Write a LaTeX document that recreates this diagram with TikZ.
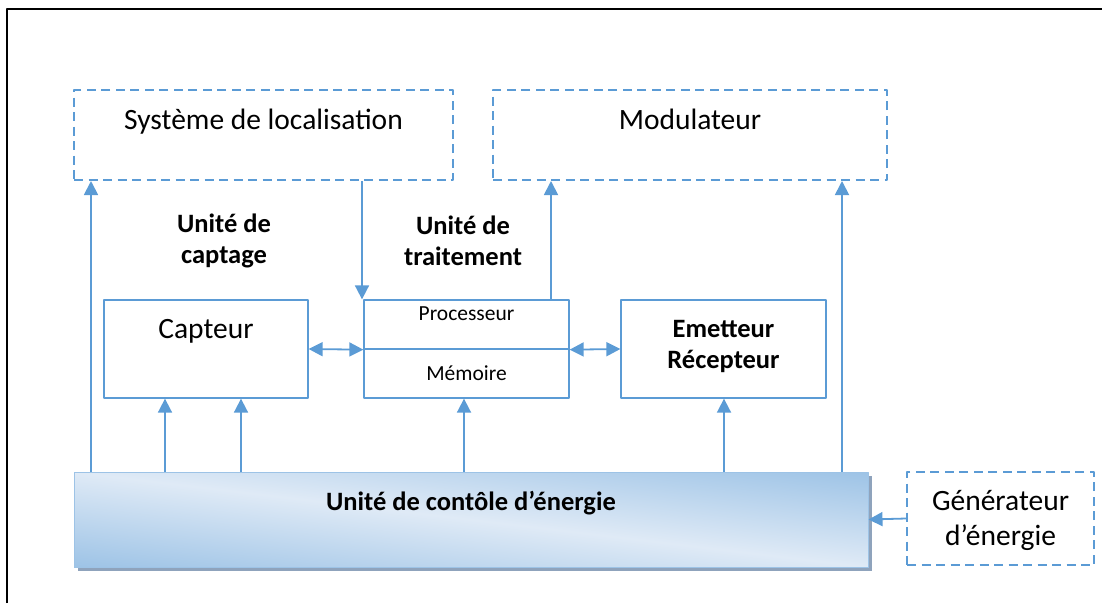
\documentclass[tikz,border=0pt]{standalone}
\usepackage{fontspec}
\setmainfont{Carlito}
\usetikzlibrary{arrows.meta,shadows}
\definecolor{bleu}{HTML}{5B9BD5}
\definecolor{bleufonce}{HTML}{9DC3E6}
\definecolor{ombre}{HTML}{8FA3BC}
% degrade diagonal : clair sur la diagonale, fonce dans deux coins
\pgfdeclarefunctionalshading{barre}{\pgfpointorigin}{\pgfpoint{100bp}{100bp}}{}{
	25 sub 50 div exch 25 sub 50 div add 1 sub abs
	dup dup -0.259 mul 0.875 add 3 1 roll -0.153 mul 0.918 add exch -0.063 mul 0.965 add}
\begin{document}
\begin{tikzpicture}[x=1pt,y=-1pt,line join=round,>={Triangle[width=14pt,length=14pt]},
	boite/.style={draw=bleu,line width=1.3pt,inner sep=0pt,align=center},
	pointille/.style={boite,line width=2pt,dash pattern=on 9pt off 5.5pt},
	fleche/.style={->,draw=bleu,line width=1.8pt},
	grand/.style={font=\fontsize{29.5}{35}\selectfont},
	petit/.style={font=\fontsize{21.5}{25}\selectfont},
	gras/.style={font=\fontsize{26.5}{31}\selectfont\bfseries},
	titre/.style={gras,align=center}]
	\useasboundingbox (0,0) rectangle (1102,603);
	\draw[line width=2.5pt] (7,603)--(7,9)--(1102,9);
	% blocs externes
	\node[pointille,grand,minimum width=379,minimum height=90,text height=20pt,text depth=31pt] (loc) at (263.5,135) {Système de localisation};
	\node[pointille,grand,minimum width=394,minimum height=90,text height=20pt,text depth=31pt] (mod) at (690,135) {Modulateur};
	\node[pointille,grand,minimum width=187,minimum height=93,text height=55pt,text depth=1pt] (gen) at (1000.5,518.5) {Générateur\\d’énergie};
	% noeud capteur
	\node[boite,grand,minimum width=204,minimum height=98,text height=20pt,text depth=41pt] (capt) at (206,349) {Capteur};
	\node[boite,petit,minimum width=205,minimum height=49,text height=16pt,text depth=25pt] (proc) at (466.5,324.5) {Processeur};
	\node[boite,petit,minimum width=205,minimum height=49,text height=16pt,text depth=3pt] (mem) at (466.5,373.5) {Mémoire};
	\node[boite,gras,minimum width=205,minimum height=98,text height=48pt,text depth=10pt] (emet) at (723.5,349) {Emetteur\\Récepteur};
	\node[draw=bleufonce,line width=1pt,shading=barre,minimum width=794,minimum height=95,inner sep=0pt,
		drop shadow={shadow xshift=4pt,shadow yshift=-4pt,fill=ombre,opacity=1},
		gras,text height=18pt,text depth=37pt] (nrj) at (471,519.5) {Unité de contôle d’énergie};
	\node[titre] (ucapt) at (224,241) {Unité de\\captage};
	\node[titre] (utrait) at (463,241) {Unité de\\traitement};
	% liaisons
	\draw[fleche] (91,0 |- nrj.north) -- (91,0 |- loc.south);
	\draw[fleche] (165,0 |- nrj.north) -- (165,0 |- capt.south);
	\draw[fleche] (241,0 |- nrj.north) -- (241,0 |- capt.south);
	\draw[fleche] (464,0 |- nrj.north) -- (464,0 |- mem.south);
	\draw[fleche] (724,0 |- nrj.north) -- (724,0 |- emet.south);
	\draw[fleche] (842,0 |- nrj.north) -- (842,0 |- mod.south);
	\draw[fleche] (362,0 |- loc.south) -- (362,0 |- proc.north);
	\draw[fleche] (551,0 |- proc.north) -- (551,0 |- mod.south);
	\draw[fleche,<->] (capt.east) -- (proc.south west);
	\draw[fleche,<->] (proc.south east) -- (emet.west);
	\draw[fleche] (gen.west) -- (nrj.east);
\end{tikzpicture}
\end{document}
